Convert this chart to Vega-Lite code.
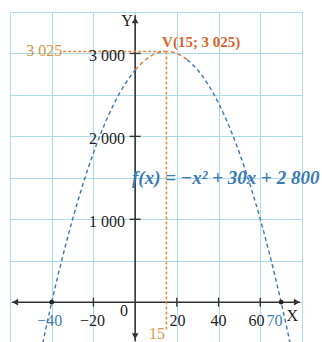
{
  "$schema": "https://vega.github.io/schema/vega-lite/v6.json",
  "width": 292,
  "height": 330,
  "autosize": "none",
  "padding": {"left": 10, "top": 12, "right": 20, "bottom": 0},
  "background": "white",
  "config": {"view": {"stroke": null}},
  "resolve": {"scale": {"color": "independent"}},
  "datasets": {
    "curve": [
      {"x": -45, "y": -575, "part": "left"},
      {"x": -40, "y": 0, "part": "left"},
      {"x": -35, "y": 525, "part": "left"},
      {"x": -30, "y": 1000, "part": "left"},
      {"x": -25, "y": 1425, "part": "left"},
      {"x": -20, "y": 1800, "part": "left"},
      {"x": -15, "y": 2125, "part": "left"},
      {"x": -10, "y": 2400, "part": "left"},
      {"x": -5, "y": 2625, "part": "left"},
      {"x": 0, "y": 2800, "part": "left"},
      {"x": 0, "y": 2800, "part": "top"},
      {"x": 5, "y": 2925, "part": "top"},
      {"x": 10, "y": 3000, "part": "top"},
      {"x": 15, "y": 3025, "part": "top"},
      {"x": 20, "y": 3000, "part": "top"},
      {"x": 25, "y": 2925, "part": "top"},
      {"x": 25, "y": 2925, "part": "right"},
      {"x": 30, "y": 2800, "part": "right"},
      {"x": 35, "y": 2625, "part": "right"},
      {"x": 40, "y": 2400, "part": "right"},
      {"x": 45, "y": 2125, "part": "right"},
      {"x": 50, "y": 1800, "part": "right"},
      {"x": 55, "y": 1425, "part": "right"},
      {"x": 60, "y": 1000, "part": "right"},
      {"x": 65, "y": 525, "part": "right"},
      {"x": 70, "y": 0, "part": "right"},
      {"x": 75, "y": -575, "part": "right"}
    ]
  },
  "layer": [
    {
      "data": {"values": [{"x": 0, "y": 0}]},
      "mark": {"type": "point", "opacity": 0},
      "encoding": {
        "x": {"field": "x", "type": "quantitative",
              "scale": {"domain": [-60, 80], "nice": false, "zero": false},
              "axis": {"values": [-60, -40, -20, 0, 20, 40, 60, 80], "grid": true, "gridColor": "#acdbeb", "gridWidth": 1,
                       "labels": false, "ticks": false, "domain": false, "title": null}},
        "y": {"field": "y", "type": "quantitative",
              "scale": {"domain": [-480, 3500], "nice": false, "zero": false},
              "axis": {"values": [0, 500, 1000, 1500, 2000, 2500, 3000, 3500], "grid": true, "gridColor": "#acdbeb", "gridWidth": 1,
                       "labels": false, "ticks": false, "domain": false, "title": null}}
      }
    },
    {
      "data": {"values": [
        {"x": -59, "x2": 79, "y": 0, "y2": 0},
        {"x": 0, "x2": 0, "y": -470, "y2": 3460}
      ]},
      "mark": {"type": "rule", "color": "#333333", "strokeWidth": 1.6},
      "encoding": {
        "x": {"field": "x", "type": "quantitative"}, "x2": {"field": "x2"},
        "y": {"field": "y", "type": "quantitative"}, "y2": {"field": "y2"}
      }
    },
    {
      "data": {"name": "curve"},
      "mark": {"type": "line", "strokeDash": [4, 3], "strokeWidth": 1.4, "interpolate": "monotone", "clip": true},
      "encoding": {
        "x": {"field": "x", "type": "quantitative"},
        "y": {"field": "y", "type": "quantitative"},
        "color": {"field": "part", "type": "nominal", "legend": null,
                  "scale": {"domain": ["left", "top", "right"], "range": ["#3a78b4", "#e07a3c", "#3a78b4"]}}
      }
    },
    {
      "data": {"values": [
        {"x": -34.5, "x2": 15, "y": 3025, "y2": 3025},
        {"x": 15, "x2": 15, "y": 3025, "y2": -330}
      ]},
      "mark": {"type": "rule", "color": "#e8893f", "strokeWidth": 1.5, "strokeDash": [3, 2]},
      "encoding": {
        "x": {"field": "x", "type": "quantitative"}, "x2": {"field": "x2"},
        "y": {"field": "y", "type": "quantitative"}, "y2": {"field": "y2"}
      }
    },
    {
      "data": {"values": [
        {"x": -57.5, "y": 0, "dir": "triangle-left"},
        {"x": 77.5, "y": 0, "dir": "triangle-right"},
        {"x": 0, "y": 3400, "dir": "triangle-up"},
        {"x": 0, "y": -410, "dir": "triangle-down"}
      ]},
      "mark": {"type": "point", "filled": true, "color": "#333333", "opacity": 1, "size": 45},
      "encoding": {
        "x": {"field": "x", "type": "quantitative"},
        "y": {"field": "y", "type": "quantitative"},
        "shape": {"field": "dir", "type": "nominal", "scale": null}
      }
    },
    {
      "data": {"values": [{"x": -20, "y": 0}, {"x": 20, "y": 0}, {"x": 40, "y": 0}, {"x": 60, "y": 0}]},
      "mark": {"type": "tick", "orient": "vertical", "size": 9, "thickness": 1.4, "color": "#333333", "opacity": 1},
      "encoding": {"x": {"field": "x", "type": "quantitative"}, "y": {"field": "y", "type": "quantitative"}}
    },
    {
      "data": {"values": [{"x": 0, "y": 1000}, {"x": 0, "y": 2000}, {"x": 0, "y": 3000}]},
      "mark": {"type": "tick", "orient": "horizontal", "size": 11, "thickness": 1.4, "color": "#333333", "opacity": 1},
      "encoding": {"x": {"field": "x", "type": "quantitative"}, "y": {"field": "y", "type": "quantitative"}}
    },
    {
      "data": {"values": [{"x": -40, "y": 0}, {"x": 70, "y": 0}]},
      "mark": {"type": "circle", "color": "#222222", "size": 22, "opacity": 1},
      "encoding": {"x": {"field": "x", "type": "quantitative"}, "y": {"field": "y", "type": "quantitative"}}
    },
    {
      "data": {"values": [
        {"x": -41, "y": -227, "label": "−40", "kind": "root"},
        {"x": -20.4, "y": -227, "label": "−20", "kind": "plain"},
        {"x": -5.3, "y": -106, "label": "0", "kind": "plain"},
        {"x": 20.3, "y": -227, "label": "20", "kind": "plain"},
        {"x": 40, "y": -227, "label": "40", "kind": "plain"},
        {"x": 58.2, "y": -227, "label": "60", "kind": "plain"},
        {"x": 66.8, "y": -227, "label": "70", "kind": "root"},
        {"x": 75.3, "y": -167, "label": "X", "kind": "plain"},
        {"x": -3.9, "y": 3391, "label": "Y", "kind": "plain"},
        {"x": 10.5, "y": -384, "label": "15", "kind": "mark"}
      ]},
      "mark": {"type": "text", "font": "Liberation Serif", "fontSize": 16, "align": "center", "baseline": "middle"},
      "encoding": {
        "x": {"field": "x", "type": "quantitative"},
        "y": {"field": "y", "type": "quantitative"},
        "text": {"field": "label"},
        "color": {"field": "kind", "type": "nominal", "legend": null,
                  "scale": {"domain": ["plain", "root", "mark"], "range": ["#222222", "#3a7fb8", "#e0964e"]}}
      }
    },
    {
      "data": {"values": [
        {"x": -4.9, "y": 2969, "label": "3 000"},
        {"x": -4.9, "y": 1968, "label": "2 000"},
        {"x": -4.9, "y": 967, "label": "1 000"}
      ]},
      "mark": {"type": "text", "font": "Liberation Serif", "fontSize": 16, "align": "right", "baseline": "middle", "color": "#222222"},
      "encoding": {
        "x": {"field": "x", "type": "quantitative"},
        "y": {"field": "y", "type": "quantitative"},
        "text": {"field": "label"}
      }
    },
    {
      "data": {"values": [{"x": -35, "y": 3030, "label": "3 025"}]},
      "mark": {"type": "text", "font": "Liberation Serif", "fontSize": 16, "align": "right", "baseline": "middle", "color": "#d9913f"},
      "encoding": {
        "x": {"field": "x", "type": "quantitative"},
        "y": {"field": "y", "type": "quantitative"},
        "text": {"field": "label"}
      }
    },
    {
      "data": {"values": [{"x": 12.9, "y": 3138, "label": "V(15; 3 025)"}]},
      "mark": {"type": "text", "font": "Liberation Serif", "fontSize": 15, "fontWeight": "bold", "align": "left", "baseline": "middle", "color": "#d8652c"},
      "encoding": {
        "x": {"field": "x", "type": "quantitative"},
        "y": {"field": "y", "type": "quantitative"},
        "text": {"field": "label"}
      }
    },
    {
      "data": {"values": [{"x": -1.5, "y": 1498, "label": "f(x) = −x² + 30x + 2 800"}]},
      "mark": {"type": "text", "font": "Liberation Serif", "fontSize": 19, "fontWeight": "bold", "fontStyle": "italic", "align": "left", "baseline": "middle", "color": "#3a7ab6"},
      "encoding": {
        "x": {"field": "x", "type": "quantitative"},
        "y": {"field": "y", "type": "quantitative"},
        "text": {"field": "label"}
      }
    }
  ]
}
